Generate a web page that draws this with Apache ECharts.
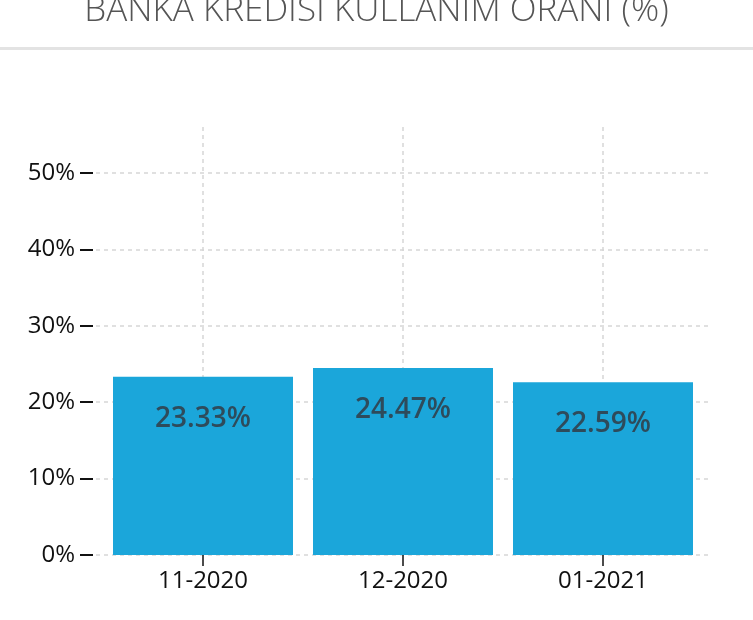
<!DOCTYPE html>
<html style="height: 100%">
   <head>
       <meta charset="utf-8">
   </head>
   <body style="height: 100%; margin: 0">
       <div id="container" style="width: 753px; height: 620px"></div>
       <script type="text/javascript" src="https://cdn.jsdelivr.net/npm/echarts@6/dist/echarts.min.js"></script>
       <script type="text/javascript">
var dom = document.getElementById("container");
var myChart = echarts.init(dom);

// Banka kredisi kullanim orani, aylik
var titleText = 'BANKA KREDİSİ KULLANIM ORANI (%)';
var months = ['11-2020', '12-2020', '01-2021'];
var rates = [23.33, 24.47, 22.59];
var yTicks = [0, 10, 20, 30, 40, 50];

var gridLine = { color: '#d6d6d6', type: [4, 4], width: 1.5 };

var option = {
    animation: false,
    textStyle: { fontFamily: 'Open Sans' },
    title: {
        text: titleText,
        left: 'center',
        top: -11,
        textStyle: {
            fontFamily: 'Open Sans',
            fontWeight: 300,
            fontSize: 35,
            color: '#555555'
        }
    },
    graphic: [{
        type: 'rect',
        shape: { x: 0, y: 47, width: 753, height: 3 },
        style: { fill: '#e3e3e3' },
        silent: true
    }],
    grid: [
        // bars
        { left: 103, right: 50, top: 127, bottom: 65 },
        // wider grid, only for horizontal grid lines
        { left: 96, right: 41, top: 127, bottom: 65 },
        // y ticks and labels
        { left: 93, right: 41, top: 127, bottom: 65 }
    ],
    xAxis: [{
        type: 'category',
        gridIndex: 0,
        data: months,
        axisLine: { show: false },
        axisTick: {
            show: true,
            alignWithLabel: true,
            length: 11,
            lineStyle: { color: '#111', width: 1.5 }
        },
        axisLabel: {
            color: '#111',
            fontSize: 24,
            margin: 14
        },
        splitLine: { show: false }
    }, {
        // vertical grid lines through the category centres
        type: 'value',
        gridIndex: 0,
        min: 0,
        max: 6,
        axisLine: { show: false },
        axisTick: { show: false, customValues: [1, 3, 5] },
        axisLabel: { show: false, customValues: [1, 3, 5] },
        splitLine: { show: true, lineStyle: gridLine }
    }, {
        type: 'value',
        gridIndex: 1,
        show: false
    }, {
        type: 'value',
        gridIndex: 2,
        show: false
    }],
    yAxis: [{
        type: 'value',
        gridIndex: 0,
        min: 0,
        max: 56,
        show: false
    }, {
        type: 'value',
        gridIndex: 1,
        min: 0,
        max: 56,
        interval: 10,
        axisLine: { show: false },
        axisTick: { show: false, customValues: yTicks },
        axisLabel: { show: false, customValues: yTicks },
        splitLine: { show: true, lineStyle: gridLine }
    }, {
        type: 'value',
        gridIndex: 2,
        min: 0,
        max: 56,
        interval: 10,
        axisLine: { show: false },
        axisTick: {
            show: true,
            length: 13,
            customValues: yTicks,
            lineStyle: { color: '#111', width: 2 }
        },
        axisLabel: {
            color: '#111',
            fontSize: 24,
            margin: 18,
            customValues: yTicks,
            formatter: '{value}%'
        },
        splitLine: { show: false }
    }],
    series: [{
        type: 'bar',
        xAxisIndex: 0,
        yAxisIndex: 0,
        data: rates,
        barWidth: '90%',
        itemStyle: { color: '#1ba6da' },
        z: 3,
        label: {
            show: true,
            position: 'insideTop',
            distance: 28,
            color: '#2e4b5b',
            fontSize: 28,
            fontWeight: 600,
            formatter: function (p) { return p.value.toFixed(2) + '%'; }
        }
    }]
};
myChart.setOption(option);
       </script>
   </body>
</html>
